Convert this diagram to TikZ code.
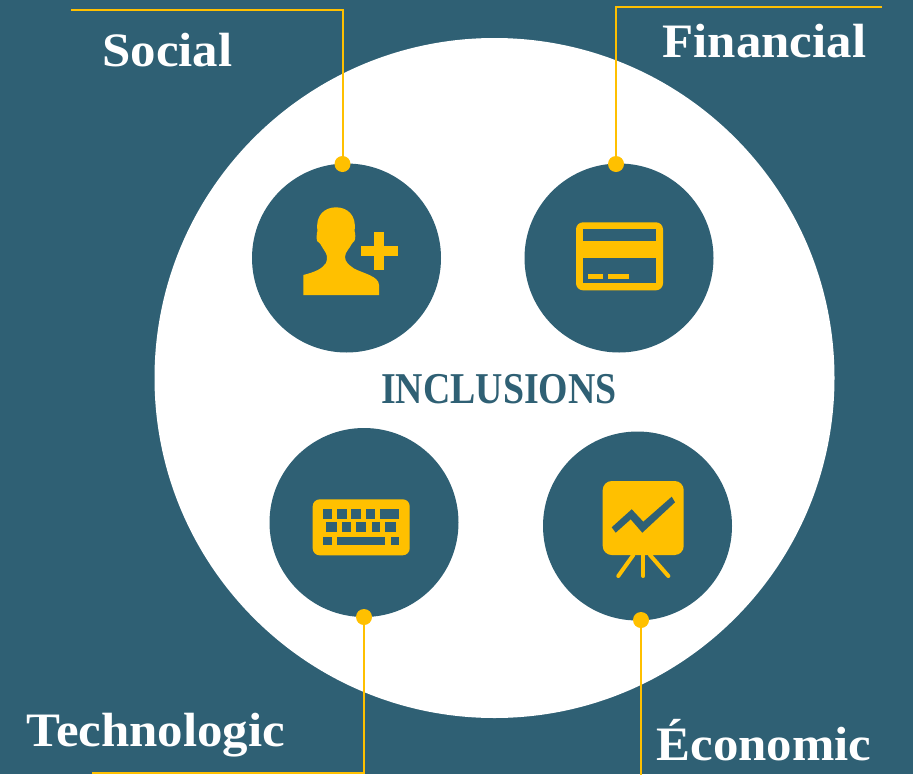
\documentclass[tikz,border=0pt]{standalone}
\usepackage{fontspec}
\setmainfont{Liberation Serif}
\newfontfamily\labfont[FakeStretch=1.06]{Liberation Serif}
\newfontfamily\incfont[FakeStretch=0.86]{Liberation Serif}
\definecolor{teal}{HTML}{2F6074}
\definecolor{gold}{HTML}{FFC000}
\tikzset{
  x=1pt,y=-1pt,
  disc/.style={circle,fill=teal,minimum size=189pt,inner sep=0pt},
  dot/.style={circle,fill=gold,minimum size=16pt,inner sep=0pt},
  leader/.style={draw=gold,line width=2pt},
  label/.style={text=white,font=\labfont\bfseries\fontsize{48}{48}\selectfont,inner sep=0pt,anchor=base},
  goldfill/.style={fill=gold,draw=none},
  hole/.style={fill=teal,draw=none},
}
\begin{document}
\begin{tikzpicture}
\useasboundingbox (0,0) rectangle (913,774);
\fill[teal] (0,0) rectangle (913,774);
\node[circle,fill=white,minimum size=680pt,inner sep=0pt] (main) at (494.5,378) {};
\node[disc] (social) at (346.5,258) {};
\node[disc] (financial) at (619,258) {};
\node[disc] (techno) at (364,522.5) {};
\node[disc] (econo) at (637.5,526) {};
\node[dot] (d1) at (342.5,164) {};
\node[dot] (d2) at (616,164) {};
\node[dot] (d3) at (364,617) {};
\node[dot] (d4) at (641,620) {};
\coordinate (e1) at (71,10);
\coordinate (e2) at (882,7);
\coordinate (e3) at (92,772.7);
\coordinate (e4) at (641,775);
\draw[leader] (d1.center) |- (e1);
\draw[leader] (d2.center) |- (e2);
\draw[leader] (d3.center) |- (e3);
\draw[leader] (d4.center) -- (e4);
\node[label] (tsocial) at (167.5,66.7) {Social};
\node[label] (tfin) at (764.5,57.5) {Financial};
\node[label] (ttech) at (156,746) {Technologic};
\node[label] (teco) at (764,760) {Économic};
\node[text=teal,font=\incfont\bfseries\fontsize{44}{44}\selectfont,inner sep=0pt,anchor=base] (tinc) at (499,403) {INCLUSIONS};
% person icon
\fill[goldfill] (303.3,295) -- (303.3,275) .. controls (315,272) and (322,269) .. (326,263)
 .. controls (328,258) and (327,254) .. (324,250) .. controls (322,247) and (321,245) .. (320,243.5)
 .. controls (317,243) and (316.5,240) .. (316.7,236)
 .. controls (316.7,233) and (317,232) .. (317.5,231) .. controls (315,215) and (325,207.3) .. (336,207.3)
 .. controls (347,207.3) and (357,215) .. (354.5,231) .. controls (355,232) and (355.3,234) .. (355.3,236)
 .. controls (355.3,240) and (354,243) .. (352,243.5) .. controls (350,248) and (345,252) .. (345,257)
 .. controls (345,262) and (349,265) .. (354,268.5) .. controls (362,273) and (379,276) .. (379,285)
 -- (379,295) -- cycle;
\fill[goldfill] (360.7,246) rectangle (398,256);
\fill[goldfill] (374,231.7) rectangle (384.3,270);
% card icon
\fill[goldfill,rounded corners=7pt] (576,222.3) rectangle (663,290.3);
\fill[hole] (583.3,229) rectangle (656,240.7);
\fill[hole] (583.3,258) rectangle (656,283.3);
\fill[goldfill] (588.3,274.3) rectangle (602.7,279);
\fill[goldfill] (608,274.3) rectangle (629,279);
% keyboard icon
\fill[goldfill,rounded corners=7pt] (312.7,499.3) rectangle (409.7,555.3);
\foreach \a/\b in {69/95,110/142,152/184,199/225,240/297}
  \fill[hole] ({300+\a/3},509) rectangle ({300+\b/3},518.7);
\foreach \a/\b in {79/111,126/152,168/199,215/241,256/288}
  \fill[hole] ({300+\a/3},522.3) rectangle ({300+\b/3},532.3);
\foreach \a/\b in {69/95,110/256,272/298}
  \fill[hole] ({300+\a/3},537) rectangle ({300+\b/3},545.3);
% chart icon
\draw[gold,line width=4pt,line cap=round] (633.3,555) -- (618.3,576);
\draw[gold,line width=4pt,line cap=round] (643.3,555) -- (643.3,576);
\draw[gold,line width=4pt,line cap=round] (650,555) -- (668.3,576);
\fill[goldfill,rounded corners=9pt] (602.7,481) rectangle (683.7,555);
\fill[hole] (611.7,527.3) -- (631.7,509.3) -- (643.3,521.7) -- (671.7,496.7) -- (675,502.3) -- (642.3,532.7) -- (630.7,519.3) -- (615.7,532.7) -- cycle;
\end{tikzpicture}
\end{document}
